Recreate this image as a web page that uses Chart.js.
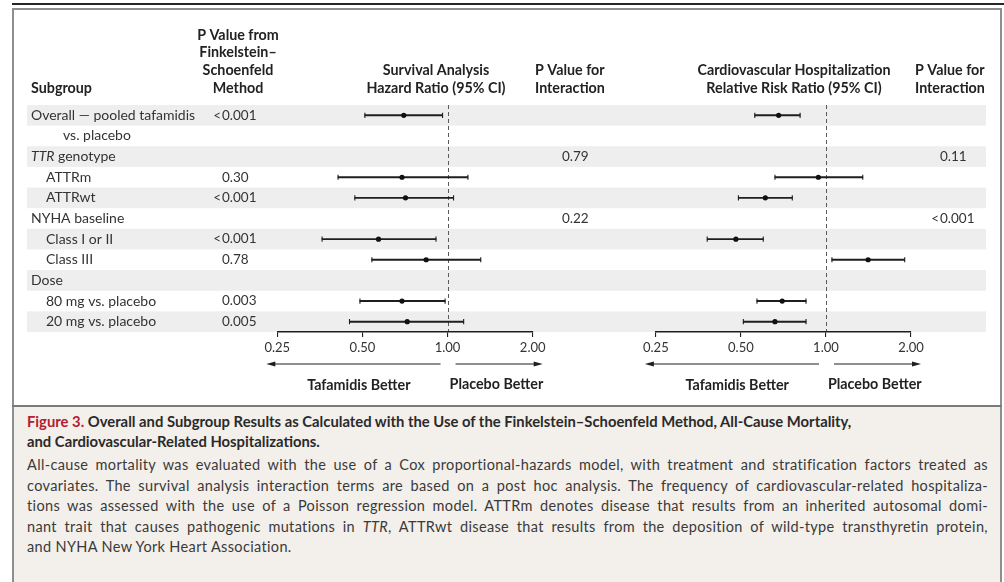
<!DOCTYPE html>
<html>
<head>
<meta charset="utf-8">
<title>Figure 3 — Subgroup forest plots</title>
<script src="https://cdn.jsdelivr.net/npm/chart.js@4.4.1/dist/chart.umd.min.js"></script>
<style>
  html, body { margin: 0; padding: 0; background: #fff; }
  body { width: 1004px; height: 582px; position: relative; overflow: hidden;
         font-family: Lato, "Open Sans", "Noto Sans", sans-serif; color: #2b2b2b; }
  #rule  { position: absolute; left: 12px; right: 0; top: 3px; height: 2px; background: #262626; }
  #frame { position: absolute; left: 12px; top: 8px; width: 990px; height: 600px;
           border: 2px solid #8e8e8e; box-sizing: border-box; }
  #divider { position: absolute; left: 12px; top: 405px; width: 990px; height: 2px; background: #7a7a7a; }
  #cap { position: absolute; left: 14px; top: 407px; width: 986px; height: 175px; background: #f3efeb;
         box-sizing: border-box; padding: 5px 12px 0 13px; }
  .t { font-weight: 700; font-size: 14.8px; line-height: 19.5px; color: #2a2a2a; white-space: nowrap; }
  .t .fig { color: #b3202f; }
  .b { font-size: 14.5px; letter-spacing: 0.35px; line-height: 20.5px; color: #3a3a3a; }
  .j { text-align: justify; text-align-last: justify; }
  .gap { height: 4px; }
  canvas { position: absolute; top: 0; }
  #left  { left: 0; }
  #right { left: 640px; }
</style>
</head>
<body>
<div id="rule"></div>
<div id="frame"></div>
<div id="divider"></div>
<canvas id="left" width="640" height="404"></canvas>
<canvas id="right" width="360" height="404"></canvas>
<div id="cap">
  <div class="t"><span class="fig">Figure 3.</span> Overall and Subgroup Results as Calculated with the Use of the Finkelstein–Schoenfeld Method, All-Cause Mortality,</div>
  <div class="t">and Cardiovascular-Related Hospitalizations.</div>
  <div class="gap"></div>
  <div class="b j">All-cause mortality was evaluated with the use of a Cox proportional-hazards model, with treatment and stratification factors treated as</div>
  <div class="b j">covariates. The survival analysis interaction terms are based on a post hoc analysis. The frequency of cardiovascular-related hospitaliza-</div>
  <div class="b j">tions was assessed with the use of a Poisson regression model. ATTRm denotes disease that results from an inherited autosomal domi-</div>
  <div class="b j">nant trait that causes pathogenic mutations in <i>TTR</i>, ATTRwt disease that results from the deposition of wild-type transthyretin protein,</div>
  <div class="b">and NYHA New York Heart Association.</div>
</div>

<script>
// ---- Subgroup rows (one entry per printed line) ----
const rows = ['Overall — pooled tafamidis', 'vs. placebo', 'TTR genotype', 'ATTRm', 'ATTRwt',
              'NYHA baseline', 'Class I or II', 'Class III', 'Dose', '80 mg vs. placebo', '20 mg vs. placebo'];
const rowLevel = [0, 2, 0, 1, 1, 0, 1, 1, 0, 1, 1];
const italicWords = ['TTR'];

// P value from the Finkelstein–Schoenfeld method
const pFinkelstein = ['<0.001', '', '', '0.30', '<0.001', '', '<0.001', '0.78', '', '0.003', '0.005'];

// Survival analysis: hazard ratio with 95% CI
const hrEst  = [0.70, null, null, 0.69, 0.71, null, 0.57, 0.84, null, 0.69, 0.72];
const hrLow  = [0.51, null, null, 0.41, 0.47, null, 0.36, 0.54, null, 0.49, 0.45];
const hrHigh = [0.96, null, null, 1.18, 1.05, null, 0.91, 1.31, null, 0.98, 1.14];
const pInteractionSurvival = ['', '', '0.79', '', '', '0.22', '', '', '', '', ''];

// Cardiovascular hospitalization: relative risk ratio with 95% CI
const rrEst  = [0.68, null, null, 0.94, 0.61, null, 0.48, 1.41, null, 0.70, 0.66];
const rrLow  = [0.56, null, null, 0.66, 0.49, null, 0.38, 1.05, null, 0.57, 0.51];
const rrHigh = [0.81, null, null, 1.35, 0.76, null, 0.60, 1.90, null, 0.85, 0.85];
const pInteractionHosp = ['', '', '0.11', '', '', '<0.001', '', '', '', '', ''];

// Axis ticks shared by both panels
const axisTicks = [0.25, 0.5, 1, 2];
const betterLabels = ['Tafamidis Better', 'Placebo Better'];

// ---- drawing helpers ----
const INK = '#1e1e1e';
const TEXT = '#333333';
const FONT = 'Lato, "Open Sans", sans-serif';
const STRIPE = '#eeeeee';

function drawLines(ctx, lines, x, yLast, align, step) {
  ctx.font = `700 14.3px ${FONT}`;
  ctx.fillStyle = '#222';
  ctx.textAlign = align;
  ctx.textBaseline = 'middle';
  lines.forEach((s, i) => ctx.fillText(s, x, yLast - (lines.length - 1 - i) * step));
}

function drawRowLabel(ctx, s, x, y) {
  ctx.textAlign = 'left';
  ctx.textBaseline = 'middle';
  ctx.fillStyle = TEXT;
  let cx = x;
  s.split(/(\s+)/).forEach(part => {
    ctx.font = (italicWords.includes(part) ? 'italic ' : '') + `14px ${FONT}`;
    ctx.fillText(part, cx, y);
    cx += ctx.measureText(part).width;
  });
}

// P values aligned on their leading zero; a "<" hangs to the left
function drawP(ctx, s, anchor, y) {
  if (!s) return;
  ctx.font = `13.5px ${FONT}`;
  ctx.fillStyle = TEXT;
  ctx.textBaseline = 'middle';
  if (s[0] === '<') {
    ctx.textAlign = 'right';
    ctx.fillText('<', anchor - 1, y);
    s = s.slice(1);
  }
  ctx.textAlign = 'left';
  ctx.fillText(s, anchor, y);
}

function arrow(ctx, x0, x1, y) {
  const dir = Math.sign(x1 - x0);
  ctx.strokeStyle = INK; ctx.fillStyle = INK; ctx.lineWidth = 1.1;
  ctx.beginPath(); ctx.moveTo(x0, y); ctx.lineTo(x1 - dir * 6, y); ctx.stroke();
  ctx.beginPath(); ctx.moveTo(x1, y); ctx.lineTo(x1 - dir * 9, y - 2.6); ctx.lineTo(x1 - dir * 9, y + 2.6);
  ctx.closePath(); ctx.fill();
}

// ---- one forest panel per canvas ----
function forestPanel(canvasId, offsetX, width, est, low, high, decorate) {
  const capPoints = [];
  const estPoints = [];
  rows.forEach((r, i) => {
    if (est[i] == null) return;
    capPoints.push({ x: low[i], y: r }, { x: high[i], y: r });
    estPoints.push({ x: est[i], y: r });
  });

  const panelPlugin = {
    id: 'panel_' + canvasId,
    beforeDraw(chart) {
      const { ctx, scales: { x, y }, chartArea } = chart;
      const band = y.getPixelForValue(1) - y.getPixelForValue(0);
      ctx.save();
      ctx.fillStyle = STRIPE;
      rows.forEach((r, i) => {
        if (i % 2) return;
        const yc = y.getPixelForValue(i);
        ctx.fillRect(27 - offsetX, yc - band / 2, 986 - 27, band);
      });
      // reference line at ratio 1.00
      const x1 = Math.round(x.getPixelForValue(1)) + 0.5;
      ctx.strokeStyle = '#5a5a5a'; ctx.lineWidth = 1; ctx.setLineDash([4, 3]);
      ctx.beginPath(); ctx.moveTo(x1, chartArea.top); ctx.lineTo(x1, chartArea.bottom); ctx.stroke();
      ctx.restore();
    },
    afterDraw(chart) {
      const { ctx, scales: { x, y } } = chart;
      ctx.save();
      const x1 = x.getPixelForValue(1);
      // direction arrows under the axis
      arrow(ctx, x1 - 7, x.getPixelForValue(axisTicks[0]) - 11, 364);
      arrow(ctx, x1 + 8, x.getPixelForValue(axisTicks[axisTicks.length - 1]) + 10, 364);
      ctx.font = `700 14.3px ${FONT}`; ctx.fillStyle = '#222'; ctx.textBaseline = 'middle';
      ctx.textAlign = 'right'; ctx.fillText(betterLabels[0], x1 - 37, 385);
      ctx.textAlign = 'left';  ctx.fillText(betterLabels[1], x1 + 2, 384);
      decorate(ctx, y, offsetX);
      ctx.restore();
    }
  };

  return new Chart(document.getElementById(canvasId), {
    type: 'scatter',
    data: {
      labels: rows,
      datasets: [
        { type: 'bar', indexAxis: 'y', data: low.map((l, i) => l == null ? null : [l, high[i]]),
          backgroundColor: INK, borderWidth: 0, barThickness: 1.25, order: 3 },
        { type: 'scatter', data: capPoints, pointStyle: 'line', rotation: 90, radius: 2.6,
          borderColor: INK, borderWidth: 1.1, order: 2 },
        { type: 'scatter', data: estPoints, pointStyle: 'circle', radius: 2.6,
          backgroundColor: '#111', borderColor: '#111', borderWidth: 0, order: 1 }
      ]
    },
    options: {
      responsive: false,
      animation: false,
      events: [],
      layout: { padding: { left: (offsetX === 0 ? 277.3 : 655.3 - offsetX),
                           right: width - (offsetX === 0 ? 532.7 : 911 - offsetX),
                           top: 105, bottom: 50 } },
      plugins: { legend: { display: false }, tooltip: { enabled: false } },
      scales: {
        x: {
          type: 'logarithmic', min: axisTicks[0], max: axisTicks[axisTicks.length - 1],
          afterBuildTicks: s => { s.ticks = axisTicks.map(v => ({ value: v })); },
          afterFit: s => { s.height = 22; },
          ticks: { callback: v => Number(v).toFixed(2), autoSkip: false, maxRotation: 0,
                   padding: 3, color: TEXT, font: { family: FONT, size: 13 } },
          grid: { drawOnChartArea: false, drawTicks: true, tickLength: 5, color: INK, lineWidth: 1.1 },
          border: { display: true, color: INK, width: 1.4 }
        },
        y: { type: 'category', labels: rows, offset: true, display: false }
      }
    },
    plugins: [panelPlugin]
  });
}

// Left canvas: subgroup labels, Finkelstein–Schoenfeld P, survival panel, its interaction P
forestPanel('left', 0, 640, hrEst, hrLow, hrHigh, (ctx, y, ox) => {
  drawLines(ctx, ['Subgroup'], 31, 88, 'left', 17.7);
  drawLines(ctx, ['P Value from', 'Finkelstein–', 'Schoenfeld', 'Method'], 238, 88, 'center', 17.7);
  drawLines(ctx, ['Survival Analysis', 'Hazard Ratio (95% CI)'], 436, 88, 'center', 17.7);
  drawLines(ctx, ['P Value for', 'Interaction'], 535, 88, 'left', 17.7);
  const indent = [31, 46, 63];
  rows.forEach((r, i) => {
    const yc = y.getPixelForValue(i);
    drawRowLabel(ctx, r, indent[rowLevel[i]], yc);
    drawP(ctx, pFinkelstein[i], 222, yc);
    drawP(ctx, pInteractionSurvival[i], 562, yc);
  });
});

// Right canvas: cardiovascular hospitalization panel and its interaction P
forestPanel('right', 640, 360, rrEst, rrLow, rrHigh, (ctx, y, ox) => {
  drawLines(ctx, ['Cardiovascular Hospitalization', 'Relative Risk Ratio (95% CI)'], 794 - ox, 88, 'center', 17.7);
  drawLines(ctx, ['P Value for', 'Interaction'], 915 - ox, 88, 'left', 17.7);
  rows.forEach((r, i) => drawP(ctx, pInteractionHosp[i], 940 - ox, y.getPixelForValue(i)));
});
</script>
</body>
</html>
